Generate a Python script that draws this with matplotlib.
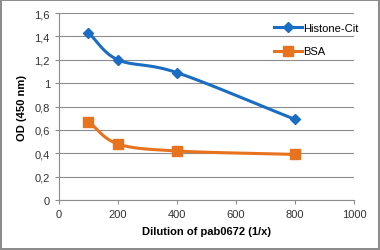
import numpy as np
import matplotlib
matplotlib.use('Agg')
import matplotlib.pyplot as plt

# Data
dilution = [100, 200, 400, 800]
histone_cit = [1.43, 1.20, 1.09, 0.69]
bsa = [0.67, 0.48, 0.42, 0.39]

x_ticks = [0, 200, 400, 600, 800, 1000]
y_ticks = [0, 0.2, 0.4, 0.6, 0.8, 1.0, 1.2, 1.4, 1.6]

blue = '#1A6DC2'
orange = '#E8731E'


def smooth(xs, ys, n=30):
    # Catmull-Rom style smoothing, similar to Excel's smoothed lines
    xs = np.asarray(xs, float)
    ys = np.asarray(ys, float)
    px = np.concatenate([[2 * xs[0] - xs[1]], xs, [2 * xs[-1] - xs[-2]]])
    py = np.concatenate([[2 * ys[0] - ys[1]], ys, [2 * ys[-1] - ys[-2]]])
    outx, outy = [], []
    for i in range(1, len(px) - 2):
        t = np.linspace(0, 1, n)
        for p, out in ((px, outx), (py, outy)):
            p0, p1, p2, p3 = p[i - 1], p[i], p[i + 1], p[i + 2]
            m1 = (p2 - p0) / 6
            m2 = (p3 - p1) / 6
            c1 = p1 + m1
            c2 = p2 - m2
            out.extend((1 - t) ** 3 * p1 + 3 * (1 - t) ** 2 * t * c1
                       + 3 * (1 - t) * t ** 2 * c2 + t ** 3 * p2)
    return outx, outy


plt.rcParams['font.family'] = ['Liberation Sans', 'DejaVu Sans']

fig = plt.figure(figsize=(3.8, 2.51), dpi=100)
fig.patch.set_edgecolor('#8c8c8c')
fig.patch.set_linewidth(1.5)
ax = fig.add_axes([0.155, 0.199, 0.777, 0.745])

sx, sy = smooth(dilution, histone_cit)
ax.plot(sx, sy, color=blue, lw=2.2, zorder=3)
ax.plot(dilution, histone_cit, 'D', color=blue, ms=5, zorder=4)
sx, sy = smooth(dilution, bsa)
ax.plot(sx, sy, color=orange, lw=2.2, zorder=3)
ax.plot(dilution, bsa, 's', color=orange, ms=7, zorder=4)

# legend proxies
ax.plot([], [], color=blue, lw=2.2, marker='D', ms=5, label='Histone-Cit')
ax.plot([], [], color=orange, lw=2.2, marker='s', ms=7, label='BSA')
ax.legend(loc='upper right', bbox_to_anchor=(1.05, 1.0), frameon=False,
          fontsize=8, handlelength=2.6, handletextpad=0.1, labelspacing=1.2)

ax.set_xlim(0, 1000)
ax.set_ylim(0, 1.6)
ax.set_xticks(x_ticks)
ax.set_yticks(y_ticks)
ax.set_yticklabels([('%g' % v).replace('.', ',') for v in y_ticks])
ax.tick_params(labelsize=8, colors='#333333', length=3, width=0.8, color='#8c8c8c')
ax.grid(axis='y', color='#8c8c8c', lw=0.8)
ax.set_axisbelow(True)
for s in ['top', 'right']:
    ax.spines[s].set_visible(False)
ax.spines['left'].set_color('#8c8c8c')
ax.spines['bottom'].set_color('#8c8c8c')

ax.set_xlabel('Dilution of pab0672 (1/x)', fontsize=8, fontweight='bold', labelpad=5)
ax.set_ylabel('OD (450 nm)', fontsize=8, fontweight='bold', labelpad=5)

fig.savefig('out.png', dpi=100, edgecolor=fig.get_edgecolor())
